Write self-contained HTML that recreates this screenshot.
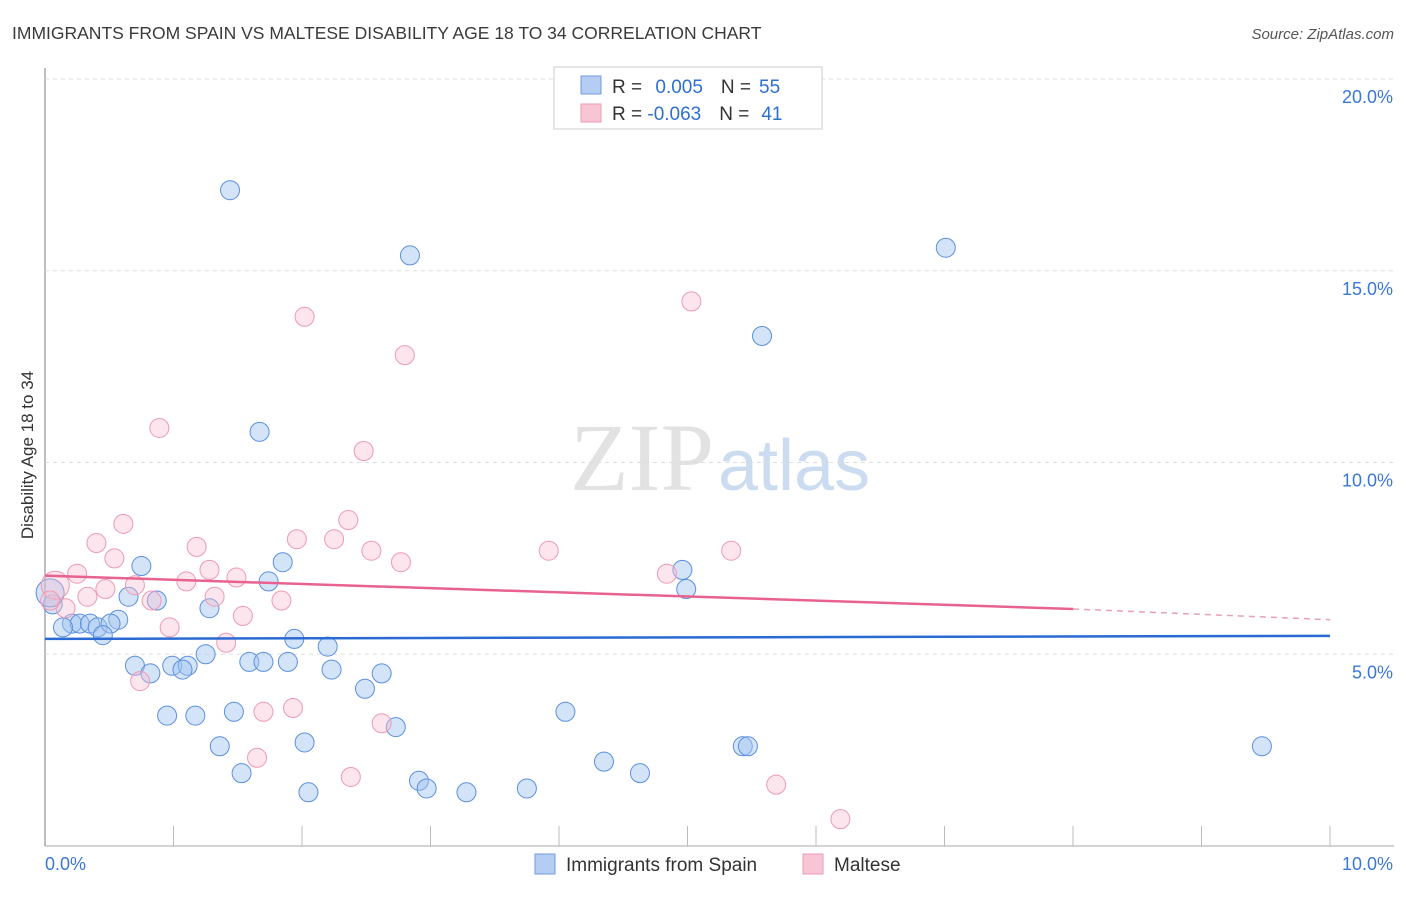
<!DOCTYPE html>
<html><head><meta charset="utf-8"><style>
body{margin:0;background:#fff;font-family:"Liberation Sans",sans-serif;}
</style></head><body>
<svg id="c" width="1406" height="892" xmlns="http://www.w3.org/2000/svg">
<text x="12" y="39" font-size="17.5" fill="#3a3a3a">IMMIGRANTS FROM SPAIN VS MALTESE DISABILITY AGE 18 TO 34 CORRELATION CHART</text>
<text x="1394" y="39" font-size="15" fill="#555" font-style="italic" text-anchor="end">Source: ZipAtlas.com</text>
<text x="714" y="490" font-size="96" fill="#e2e2e2" text-anchor="end" font-family="Liberation Serif">ZIP</text>
<text x="718" y="490" font-size="72" fill="#ccdcf0">atlas</text>
<g id="grid"></g><g id="pts"></g><g id="lines"></g>
<text x="33" y="455" font-size="17" fill="#333" text-anchor="middle" transform="rotate(-90 33 455)">Disability Age 18 to 34</text>
<rect x="554" y="67" width="268" height="62" fill="#fff" stroke="#ccc"/>
<rect x="581" y="76" width="20" height="18" fill="#b5cdf3" stroke="#6f9ae0"/>
<rect x="581" y="104" width="20" height="18" fill="#f8c5d4" stroke="#ee9ab4"/>
<text x="612" y="93" font-size="19" fill="#333">R = <tspan fill="#2e6fd0" dx="8">0.005</tspan><tspan dx="18" fill="#333">N =</tspan><tspan dx="8" fill="#2e6fd0">55</tspan></text>
<text x="612" y="120" font-size="19" fill="#333">R = <tspan fill="#2e6fd0">-0.063</tspan><tspan dx="18" fill="#333">N =</tspan><tspan dx="12" fill="#2e6fd0">41</tspan></text>
<rect x="535" y="854" width="20" height="20" fill="#b5cdf3" stroke="#6f9ae0"/>
<text x="566" y="871" font-size="19" fill="#333">Immigrants from Spain</text>
<rect x="803" y="854" width="20" height="20" fill="#f8c5d4" stroke="#ee9ab4"/>
<text x="834" y="871" font-size="19" fill="#333">Maltese</text>
</svg>
<script>
const xTicks=[0,1,2,3,4,5,6,7,8,9,10];
const yTicks=[5,10,15,20];
const yTickLabels=["5.0%","10.0%","15.0%","20.0%"];
const xEndLabels=["0.0%","10.0%"];
const spainX=[1.44,2.84,7.01,5.58,1.67,0.75,1.85,1.74,4.96,4.99,0.65,0.87,1.28,0.57,0.21,0.27,0.35,0.41,0.51,0.14,0.45,0.06,0.04,1.94,2.20,1.25,0.70,0.99,1.11,0.82,1.07,1.59,1.70,1.89,2.23,2.62,2.49,0.95,1.17,1.47,2.73,4.05,1.36,2.02,5.43,5.47,9.47,4.35,4.63,1.53,2.91,2.97,2.05,3.28,3.75];
const spainY=[17.1,15.4,15.6,13.3,10.8,7.3,7.4,6.9,7.2,6.7,6.5,6.4,6.2,5.9,5.8,5.8,5.8,5.7,5.8,5.7,5.5,6.3,6.6,5.4,5.2,5.0,4.7,4.7,4.7,4.5,4.6,4.8,4.8,4.8,4.6,4.5,4.1,3.4,3.4,3.5,3.1,3.5,2.6,2.7,2.6,2.6,2.6,2.2,1.9,1.9,1.7,1.5,1.4,1.4,1.5];
const spainR=[9.5,9.5,9.5,9.5,9.5,9.5,9.5,9.5,9.5,9.5,9.5,9.5,9.5,9.5,9.5,9.5,9.5,9.5,9.5,9.5,9.5,9.5,14,9.5,9.5,9.5,9.5,9.5,9.5,9.5,9.5,9.5,9.5,9.5,9.5,9.5,9.5,9.5,9.5,9.5,9.5,9.5,9.5,9.5,9.5,9.5,9.5,9.5,9.5,9.5,9.5,9.5,9.5,9.5,9.5];
const maltX=[2.02,5.03,2.80,0.89,2.48,0.61,2.36,0.40,1.96,2.25,1.18,2.54,3.92,5.34,0.54,2.77,1.28,0.25,4.84,1.49,1.10,0.70,0.47,0.33,1.32,0.83,1.84,0.16,1.54,0.97,1.41,0.74,1.70,1.93,2.62,1.65,2.38,5.69,6.19,0.08,0.04];
const maltY=[13.8,14.2,12.8,10.9,10.3,8.4,8.5,7.9,8.0,8.0,7.8,7.7,7.7,7.7,7.5,7.4,7.2,7.1,7.1,7.0,6.9,6.8,6.7,6.5,6.5,6.4,6.4,6.2,6.0,5.7,5.3,4.3,3.5,3.6,3.2,2.3,1.8,1.6,0.7,6.8,6.4];
const maltR=[9.5,9.5,9.5,9.5,9.5,9.5,9.5,9.5,9.5,9.5,9.5,9.5,9.5,9.5,9.5,9.5,9.5,9.5,9.5,9.5,9.5,9.5,9.5,9.5,9.5,9.5,9.5,9.5,9.5,9.5,9.5,9.5,9.5,9.5,9.5,9.5,9.5,9.5,9.5,14,9.5];
const spainTrend=[5.4,5.48];
const maltTrend=[7.05,6.18,5.9];
const NS="http://www.w3.org/2000/svg";
const X=v=>45+v*128.5, Y=v=>846-v*38.35;
function mk(t,a,p){const e=document.createElementNS(NS,t);for(const k in a)e.setAttribute(k,a[k]);p.appendChild(e);return e;}
const g=document.getElementById('grid'),P=document.getElementById('pts'),L=document.getElementById('lines');
const ax=mk('line',{x1:45,y1:68,x2:45,y2:846,stroke:'#aaa','stroke-width':1.5},g);


const bx=mk('line',{x1:45,y1:846,x2:1394,y2:846,stroke:'#aaa','stroke-width':1},g);


yTicks.forEach((t,i)=>{const l=mk('line',{x1:45,y1:Y(t),x2:1394,y2:Y(t),stroke:'#ddd','stroke-dasharray':'4,4'},g);


const tx=mk('text',{x:1393,y:Y(t)+24,'font-size':18,fill:'#3a78d6','text-anchor':'end'},g);tx.textContent=yTickLabels[i];

});
xTicks.forEach(t=>{if(t===0)return;const l=mk('line',{x1:X(t),y1:826,x2:X(t),y2:846,stroke:'#bbb'},g);

});
[[0,'start',45],[10,'end',1393]].forEach((a,i)=>{const tx=mk('text',{x:a[2],y:870,'font-size':18,fill:'#3a78d6','text-anchor':a[1]},g);tx.textContent=xEndLabels[i];

});
spainX.forEach((x,i)=>{const c=mk('circle',{cx:X(x),cy:Y(spainY[i]),r:spainR[i],fill:'rgba(160,195,240,0.45)',stroke:'#5b8fe0','stroke-width':1},P);

});
maltX.forEach((x,i)=>{const c=mk('circle',{cx:X(x),cy:Y(maltY[i]),r:maltR[i],fill:'rgba(248,190,208,0.4)',stroke:'#ee9ab4','stroke-width':1},P);

});
const s=mk('line',{x1:X(0),y1:Y(spainTrend[0]),x2:X(10),y2:Y(spainTrend[1]),stroke:'#2a6ad2','stroke-width':2.5},L);


const m=mk('line',{x1:X(0),y1:Y(maltTrend[0]),x2:X(8),y2:Y(maltTrend[1]),stroke:'#e8628f','stroke-width':2.5},L);


const md=mk('line',{x1:X(8),y1:Y(maltTrend[1]),x2:X(10),y2:Y(maltTrend[2]),stroke:'#e8a0b8','stroke-width':1.5,'stroke-dasharray':'6,5'},L);


</script>
</body></html>
